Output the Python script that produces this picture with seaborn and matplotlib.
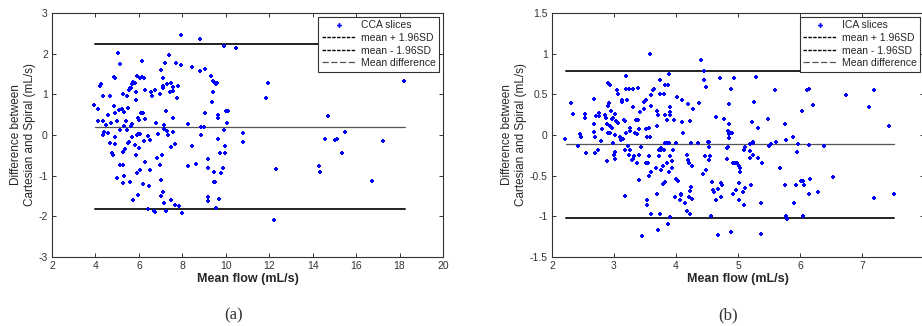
"""Bland-Altman plots: Cartesian vs spiral flow, CCA and ICA slices."""

import numpy as np
import pandas as pd
import matplotlib
matplotlib.use("Agg")
import matplotlib.pyplot as plt
from matplotlib.lines import Line2D
import seaborn as sns

# CCA slices (mean flow, difference)
cca_x = [3.95, 4.1, 4.1, 4.2, 4.27, 4.35, 4.35, 4.35, 4.4, 4.5, 4.6, 4.65, 4.6, 4.65, 4.7,
         4.75, 4.8, 4.85, 4.85, 4.9, 4.9, 4.9, 4.9, 5.0, 5.0, 5.05, 5.1, 5.15, 5.15, 5.15,
         5.2, 5.25, 5.25, 5.25, 5.25, 5.3, 5.3, 5.3, 5.35, 5.4, 5.45, 5.45, 5.5, 5.5, 5.55,
         5.55, 5.6, 5.6, 5.65, 5.65, 5.7, 5.7, 5.7, 5.75, 5.75, 5.8, 5.85, 5.85, 5.8, 5.85,
         5.9, 5.9, 5.95, 5.95, 5.9, 5.95, 6.0, 6.0, 6.05, 6.05, 6.05, 6.1, 6.15, 6.15, 6.2,
         6.2, 6.25, 6.25, 6.3, 6.3, 6.3, 6.4, 6.4, 6.45, 6.5, 6.5, 6.55, 6.6, 6.7, 6.75,
         6.75, 6.8, 6.85, 6.9, 6.95, 6.95, 7.0, 7.0, 7.0, 7.05, 7.1, 7.1, 7.1, 7.1, 7.15,
         7.15, 7.15, 7.2, 7.25, 7.25, 7.3, 7.3, 7.35, 7.4, 7.45, 7.5, 7.55, 7.55, 7.55, 7.5,
         7.55, 7.5, 7.65, 7.65, 7.7, 7.75, 7.8, 7.85, 7.95, 7.95, 8.0, 8.25, 8.25, 8.45, 8.45,
         8.65, 8.8, 8.8, 8.85, 8.85, 9.0, 9.05, 9.05, 9.2, 9.2, 9.2, 9.2, 9.3, 9.35, 9.4,
         9.4, 9.45, 9.45, 9.45, 9.5, 9.55, 9.6, 9.55, 9.65, 9.65, 9.65, 9.7, 9.75, 9.8, 9.85,
         9.9, 9.9, 9.95, 9.95, 10.0, 10.05, 10.1, 10.45, 10.8, 10.8, 11.85, 11.95, 12.2, 12.3,
         14.3, 14.35, 14.55, 14.7, 15.05, 15.1, 15.35, 15.5, 16.75, 17.25, 18.2]
cca_y = [0.73, 0.65, 0.35, 1.2, 1.25, 0.95, 0.35, 0.0, 0.07, 0.25, 0.48, 0.97, 0.05, -0.2, 0.3,
         -0.45, -0.5, 0.72, 1.43, 1.4, 0.55, -0.05, -0.23, 0.35, -1.05, 2.02, 0.62, 1.75, 0.12, -0.74,
         0.65, 1.0, -0.42, -0.74, -1.18, -1.02, 0.22, 0.57, -0.35, 0.35, 0.95, 0.12, 0.67, -0.2, 1.1,
         -0.18, -1.15, 1.15, 1.15, 0.22, 1.25, 0.28, -0.06, -1.6, 1.3, 1.27, 1.05, 0.85, -0.25, -0.5,
         0.0, 1.45, 0.42, 0.02, -0.93, -1.47, 0.38, -0.33, 1.4, 0.02, -0.85, 0.55, 1.83, 1.42, 0.53,
         -1.2, 1.41, -0.15, 1.1, 0.4, -0.67, -0.03, -1.83, -1.26, -0.12, -0.87, 1.05, 0.95, -1.87, 1.1,
         -1.9, 0.3, -0.56, 0.03, 1.0, -0.74, 1.59, -1.1, -1.5, -0.5, 1.4, 1.2, 1.15, -1.4, 0.25,
         0.14, -1.68, 1.77, -1.87, 0.58, 1.25, 0.1, 0.0, 1.97, 1.05, 1.28, 1.17, 1.07, 0.42, -0.3,
         0.08, -1.6, -0.22, -1.72, 1.77, 0.92, 1.2, -1.75, 2.45, 1.72, -1.92, 0.28, -0.76, 1.67, -0.26,
         -0.72, 2.36, 1.58, 0.2, 0.0, 0.2, 1.63, 0.53, -0.6, -0.8, -1.52, -1.62, 1.44, 0.82, 1.05,
         1.33, 1.3, -0.9, -1.15, -1.15, 1.26, 1.27, -1.8, -0.09, 0.5, 0.42, -1.58, -0.45, -0.93, -0.82,
         2.2, 0.13, -0.45, -0.27, 0.6, 0.3, 0.59, 2.15, 0.06, -0.18, 0.9, 1.27, -2.08, -0.83,
         -0.76, -0.9, -0.1, 0.47, -0.12, -0.09, -0.44, 0.08, -1.13, -0.14, 1.32]
cca_upper, cca_mean, cca_lower = 2.23, 0.2, -1.83
cca_span = [3.96, 18.24]

# ICA slices (mean flow, difference)
ica_x = [2.21, 2.31, 2.34, 2.42, 2.45, 2.47, 2.53, 2.54, 2.55, 2.67, 2.67, 2.68, 2.69, 2.70, 2.71,
         2.74, 2.75, 2.76, 2.79, 2.80, 2.85, 2.87, 2.88, 2.89, 2.90, 2.90, 2.91, 2.92, 2.93, 2.94,
         2.94, 2.95, 2.96, 2.97, 2.98, 2.99, 3.0, 3.02, 3.02, 3.02, 3.02, 3.03, 3.05, 3.06, 3.07,
         3.09, 3.11, 3.13, 3.13, 3.15, 3.16, 3.17, 3.17, 3.18, 3.19, 3.2, 3.20, 3.21, 3.23, 3.24,
         3.24, 3.25, 3.26, 3.26, 3.29, 3.30, 3.30, 3.31, 3.32, 3.34, 3.35, 3.37, 3.37, 3.38, 3.39,
         3.40, 3.40, 3.41, 3.42, 3.43, 3.45, 3.48, 3.49, 3.51, 3.51, 3.52, 3.53, 3.53, 3.54, 3.55,
         3.56, 3.56, 3.57, 3.58, 3.58, 3.59, 3.59, 3.60, 3.60, 3.63, 3.65, 3.67, 3.69, 3.70, 3.70,
         3.71, 3.71, 3.72, 3.73, 3.74, 3.74, 3.74, 3.75, 3.76, 3.76, 3.78, 3.79, 3.79, 3.81, 3.81,
         3.82, 3.82, 3.83, 3.83, 3.85, 3.86, 3.86, 3.87, 3.87, 3.88, 3.88, 3.89, 3.90, 3.90, 3.90,
         3.91, 3.91, 3.93, 3.94, 3.95, 3.96, 3.99, 4.0, 4.0, 4.02, 4.03, 4.06, 4.08, 4.08, 4.10,
         4.10, 4.11, 4.14, 4.17, 4.18, 4.19, 4.20, 4.21, 4.21, 4.23, 4.23, 4.23, 4.24, 4.24, 4.25,
         4.26, 4.27, 4.35, 4.37, 4.41, 4.44, 4.45, 4.45, 4.47, 4.48, 4.49, 4.51, 4.53, 4.53, 4.54,
         4.55, 4.56, 4.58, 4.60, 4.62, 4.65, 4.65, 4.67, 4.67, 4.71, 4.72, 4.73, 4.74, 4.78, 4.82,
         4.83, 4.84, 4.84, 4.85, 4.85, 4.86, 4.86, 4.88, 4.88, 4.89, 4.91, 4.92, 4.92, 4.94, 4.95,
         4.97, 4.99, 5.01, 5.02, 5.02, 5.03, 5.04, 5.08, 5.09, 5.10, 5.11, 5.12, 5.19, 5.19, 5.20,
         5.21, 5.22, 5.24, 5.24, 5.24, 5.26, 5.29, 5.32, 5.32, 5.37, 5.37, 5.39, 5.48, 5.50, 5.53,
         5.59, 5.62, 5.68, 5.76, 5.76, 5.77, 5.77, 5.79, 5.88, 5.91, 5.94, 5.95, 5.97, 6.01, 6.04,
         6.05, 6.05, 6.07, 6.11, 6.14, 6.14, 6.15, 6.16, 6.21, 6.29, 6.38, 6.53, 6.74, 7.11, 7.20,
         7.20, 7.44, 7.51]
ica_y = [-0.05, 0.39, 0.26, -0.13, 0.01, -0.03, 0.26, 0.21, -0.22, 0.44, 0.13, 0.04, -0.03, -0.22, 0.23,
         -0.18, 0.23, 0.27, -0.07, 0.07, 0.24, 0.21, -0.32, 0.13, 0.02, 0.36, 0.64, 0.39, 0.11, 0.61,
         0.02, 0.30, 0.20, 0.08, 0.21, -0.10, -0.24, 0.0, -0.21, -0.30, 0.26, 0.17, 0.55, 0.50, 0.15,
         -0.02, -0.06, 0.43, 0.40, -0.05, 0.19, 0.17, -0.18, -0.75, 0.72, 0.02, 0.56, 0.43, -0.14, 0.56,
         -0.25, -0.18, 0.09, 0.05, -0.31, 0.57, 0.35, -0.30, -0.26, 0.03, 0.19, 0.01, -0.34, 0.58, 0.18,
         -0.24, -0.55, 0.07, 0.28, -0.15, -1.24, 0.32, 0.40, -0.34, 0.07, 0.43, -0.02, -0.86, -0.80, -0.35,
         0.09, -0.51, -0.26, 1.00, -0.03, 0.49, 0.36, -0.45, -0.97, 0.55, 0.57, -0.41, -0.72, 0.11, 0.30,
         0.24, -1.17, -0.26, -0.18, 0.68, -0.97, 0.50, -0.16, -0.43, -0.18, -0.17, -0.60, -0.38, 0.50, -0.19,
         0.62, -0.58, 0.25, -0.10, -0.10, -0.35, 0.19, -1.10, 0.61, -0.10, 0.75, -0.46, 0.28, 0.34, 0.24,
         -1.01, -0.26, -0.32, -0.40, -0.18, 0.18, -0.76, -0.10, -0.54, 0.47, -0.57, -0.80, -0.72, -0.74, 0.16,
         0.43, 0.02, -0.83, -0.25, -0.93, 0.38, -0.31, -0.34, -0.76, 0.17, -0.69, -0.97, -0.10, -0.64, -0.79,
         -0.38, 0.32, -0.10, 0.39, 0.92, -0.48, 0.68, 0.79, -0.26, -0.43, 0.59, -0.08, -0.31, -0.15, -0.09,
         -0.26, -0.99, -0.58, -0.68, -0.70, 0.22, -0.80, -0.66, -1.23, 0.70, -0.59, -0.76, -0.61, 0.20, -0.16,
         -0.29, -0.15, 0.05, 0.38, 0.14, -0.04, 0.01, 0.57, -1.19, 0.02, 0.02, -0.34, -0.72, 0.70, -0.34,
         -0.68, -0.35, -0.80, -0.59, -0.38, -0.45, -0.40, -0.70, -0.86, -0.18, -0.65, -0.15, -0.11, -0.28, -0.20,
         -0.61, 0.16, -0.24, -0.10, -0.08, 0.41, 0.71, 0.09, -0.28, -0.83, -1.22, -0.34, 0.20, -0.13, -0.11,
         0.55, -0.09, -0.41, 0.13, -0.61, -0.06, -0.99, -1.03, -0.02, -0.83, -0.62, -0.21, -0.11, -0.56, 0.29,
         -0.99, -0.57, -0.62, 0.55, 0.56, -0.73, -0.12, -0.54, 0.37, -0.70, -0.13, -0.52, 0.49, 0.35, 0.55,
         -0.78, 0.11, -0.73]
ica_upper, ica_mean, ica_lower = 0.79, -0.11, -1.02
ica_span = [2.22, 7.52]

W, H = 922, 326

sns.set_style("ticks")
plt.rcParams["font.family"] = ["Liberation Sans", "DejaVu Sans"]

fig = plt.figure(figsize=(W / 100, H / 100), dpi=100)


def bland_altman(ax, xs, ys, upper, mean, lower, span, label, xlim, ylim, xticks, yticks):
    df = pd.DataFrame({"x": xs, "y": ys})
    sns.scatterplot(data=df, x="x", y="y", ax=ax, marker="P", s=11, color="#0000ff",
                    linewidth=0, legend=False, zorder=3)
    ax.plot(span, [upper, upper], color="#222222", lw=1.4, zorder=2)
    ax.plot(span, [lower, lower], color="#222222", lw=1.4, zorder=2)
    ax.plot(span, [mean, mean], color="#555555", lw=0.9, zorder=2)
    ax.set_xlim(*xlim)
    ax.set_ylim(*ylim)
    ax.set_xticks(xticks)
    ax.set_yticks(yticks)
    ax.set_xticklabels([f"{t:g}" for t in xticks])
    ax.set_yticklabels([f"{t:g}" for t in yticks])
    ax.tick_params(direction="in", length=3, width=0.7, labelsize=7.5,
                   colors="#333333", top=True, right=True, pad=3)
    for s in ax.spines.values():
        s.set_visible(True)
        s.set_linewidth(0.8)
        s.set_color("#333333")
    ax.set_xlabel("Mean flow (mL/s)", fontsize=9, fontweight="bold", labelpad=1)
    ax.set_ylabel("Difference between\nCartesian and Spiral (mL/s)", fontsize=8.5, labelpad=2)
    handles = [
        Line2D([], [], ls="none", marker="P", ms=3.5, color="#0000ff", mew=0),
        Line2D([], [], ls=(0, (2.5, 1)), color="black", lw=1.0),
        Line2D([], [], ls=(0, (2.5, 1)), color="black", lw=1.0),
        Line2D([], [], ls=(0, (5, 2)), color="#555555", lw=0.9),
    ]
    labels = [label, "mean + 1.96SD", "mean - 1.96SD", "Mean difference"]
    leg = ax.legend(handles, labels, loc="upper right", bbox_to_anchor=(0.99, 0.985),
                    borderaxespad=0, fontsize=7.5, frameon=True, fancybox=False,
                    framealpha=1, edgecolor="#333333", handlelength=3.2,
                    handletextpad=0.5, labelspacing=0.25, borderpad=0.35)
    leg.get_frame().set_linewidth(0.8)
    leg.set_zorder(5)


ax1 = fig.add_axes([52 / W, 69 / H, 391 / W, 244 / H])
bland_altman(ax1, cca_x, cca_y, cca_upper, cca_mean, cca_lower, cca_span, "CCA slices",
             (2, 20), (-3, 3), list(range(2, 21, 2)), [-3, -2, -1, 0, 1, 2, 3])

ax2 = fig.add_axes([552 / W, 69 / H, 372 / W, 244 / H])
bland_altman(ax2, ica_x, ica_y, ica_upper, ica_mean, ica_lower, ica_span, "ICA slices",
             (2, 8), (-1.5, 1.5), [2, 3, 4, 5, 6, 7], [-1.5, -1, -0.5, 0, 0.5, 1, 1.5])

fig.text(234 / W, 11 / H, "(a)", ha="center", va="center", fontsize=12,
         family=["Liberation Serif", "DejaVu Serif"], color="#333333")
fig.text(728 / W, 11 / H, "(b)", ha="center", va="center", fontsize=12,
         family=["Liberation Serif", "DejaVu Serif"], color="#333333")

fig.savefig("out.png", dpi=100)
